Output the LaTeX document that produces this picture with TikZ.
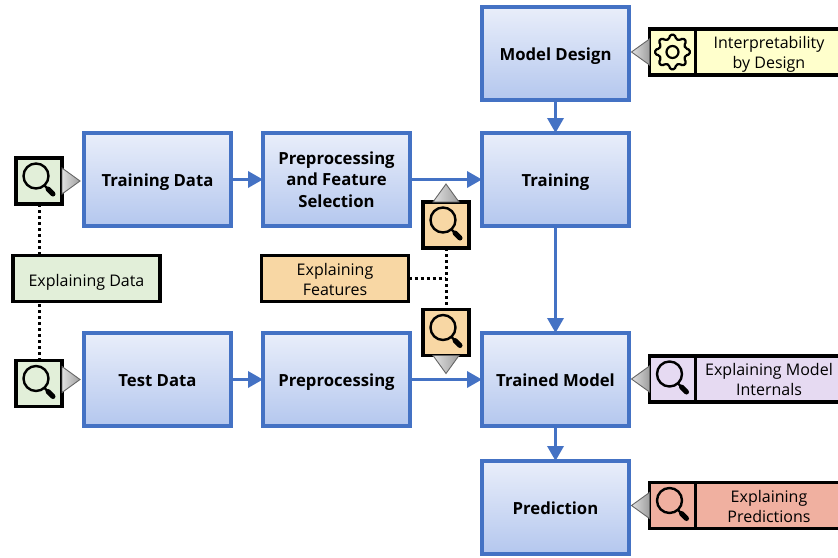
\documentclass[tikz,border=0pt]{standalone}
\usepackage{fontspec}
\setmainfont{Open Sans}
\usetikzlibrary{arrows.meta}
\usetikzlibrary{positioning}
\definecolor{ColourBlue}{HTML}{4472C4}
\definecolor{ColourBlueTop}{HTML}{E9EEFA}
\definecolor{ColourBlueLow}{HTML}{B4C7EE}
\definecolor{ColourData}{HTML}{E2EFD9}
\definecolor{ColourFeat}{HTML}{F8D7A4}
\definecolor{ColourDesign}{HTML}{FFFFCC}
\definecolor{ColourInternal}{HTML}{E6DAF2}
\definecolor{ColourPred}{HTML}{F0B0A0}
\tikzset{
  line box/.style={
    text height=#1,
    text depth=5pt,
  },
  line box/.default=19pt,
  stage/.style={
    draw=ColourBlue,
    line width=3.4pt,
    top color=ColourBlueTop,
    bottom color=ColourBlueLow,
    minimum width=147pt,
    minimum height=93pt,
    inner sep=0pt,
    outer sep=0pt,
    align=center,
    line box,
    font=\bfseries\fontsize{16.7}{21.5}\selectfont,
  },
  tag/.style={
    draw=black,
    line width=3.4pt,
    fill=#1,
    inner sep=0pt,
    outer sep=0pt,
    align=center,
    line box=20pt,
    font=\fontsize{16}{20}\selectfont,
  },
  iconbox/.style={
    tag=#1,
    minimum width=46pt,
    minimum height=46pt,
  },
  labelbox/.style={
    tag=#1,
    minimum width=147pt,
    minimum height=46pt,
  },
  flow/.style={
    draw=ColourBlue,
    line width=3.4pt,
    -{Stealth[length=15pt,width=16pt,inset=0pt]},
  },
  link/.style={
    draw=black,
    line width=3pt,
    dash pattern=on 3pt off 3pt,
  },
  lens/.pic={
    \draw[line width=2.4pt] (-3,-5) circle (12.5);
    \draw[line width=2.4pt] (5,4) -- (9,8);
    \draw[line width=5pt,line cap=round] (9,8) -- (14,13);
  },
  cog/.pic={
    \draw[line width=2.2pt,line join=round,rounded corners=1.5pt]
      (-14:13.5)
      \foreach \a in {0,45,...,315} {
        -- (\a-14:13.5) -- (\a-8:17.5) -- (\a+8:17.5) -- (\a+14:13.5)
      } -- cycle;
    \draw[line width=2.2pt] (0,0) circle (6);
  },
  pointer/.pic={
    \draw[draw=black!60,line width=.9pt,left color=black!12,right color=black!38]
      (0,-13) -- (18,0) -- (0,13) -- cycle;
  },
}

\begin{document}
\begin{tikzpicture}[x=1pt,y=-1pt]
  \useasboundingbox (0,0) rectangle (838,557);
  % main stages
  \node[stage] (design) at (555.5,53.5) {Model Design};
  \node[stage] (training) [below=33pt of design] {Training};
  \node[stage] (trained) [below=107pt of training] {Trained Model};
  \node[stage] (predict) [below=35pt of trained] {Prediction};
  \node[stage,line box=60pt] (prepsel) [left=72pt of training] {Preprocessing\\and Feature\\Selection};
  \node[stage] (prep) [left=72pt of trained] {Preprocessing};
  \node[stage] (traindata) [left=32pt of prepsel] {Training Data};
  \node[stage] (testdata) [left=32pt of prep] {Test Data};
  \draw[flow] (traindata) -- (prepsel);
  \draw[flow] (testdata) -- (prep);
  \draw[flow] (prepsel) -- (training);
  \draw[flow] (prep) -- (trained);
  \draw[flow] (design) -- (training);
  \draw[flow] (training) -- (trained);
  \draw[flow] (trained) -- (predict);
  % explaining data
  \node[labelbox=ColourData] (expdata) at (86.5,278.5) {Explaining Data};
  \node[iconbox=ColourData] (traindataicon) at (39,181) {};
  \node[iconbox=ColourData] (testdataicon) at (39,383.5) {};
  \draw[link] (traindataicon.south) -- (traindataicon.south |- expdata.north);
  \draw[link] (testdataicon.north) -- (testdataicon.north |- expdata.south);
  \pic at (traindataicon) {lens};
  \pic at (testdataicon) {lens};
  \pic at (traindataicon.east) {pointer};
  \pic at (testdataicon.east |- testdata) {pointer};
  % explaining features
  \node[labelbox=ColourFeat,line box=38pt] (expfeat) at (335,278.5) {Explaining\\Features};
  \node[iconbox=ColourFeat] (prepselicon) at (446,225) {};
  \node[iconbox=ColourFeat] (prepicon) at (446,332.5) {};
  \draw[link] (prepselicon.south) -- (prepicon.north);
  \draw[link] (expfeat.east) -- (expfeat.east -| prepselicon.south);
  \pic at (prepselicon) {lens};
  \pic at (prepicon) {lens};
  \pic[rotate=90] at (prepselicon.north) {pointer};
  \pic[rotate=-90] at (prepicon.south) {pointer};
  % right hand side
  \node[iconbox=ColourDesign] (designicon) at (672.5,52) {};
  \node[labelbox=ColourDesign,line box=38pt] (designtext) [right=0pt of designicon] {Interpretability\\by Design};
  \node[iconbox=ColourInternal] (internalicon) at (672.5,379) {};
  \node[labelbox=ColourInternal,line box=38pt] (internaltext) [right=0pt of internalicon] {Explaining Model\\Internals};
  \node[iconbox=ColourPred] (predicon) at (672.5,505.5) {};
  \node[labelbox=ColourPred,line box=38pt] (predtext) [right=0pt of predicon] {Explaining\\Predictions};
  \pic at (designicon) {cog};
  \pic at (internalicon) {lens};
  \pic at (predicon) {lens};
  \pic[rotate=180] at (designicon.west) {pointer};
  \pic[rotate=180] at (internalicon.west) {pointer};
  \pic[rotate=180] at (predicon.west) {pointer};
\end{tikzpicture}
\end{document}
